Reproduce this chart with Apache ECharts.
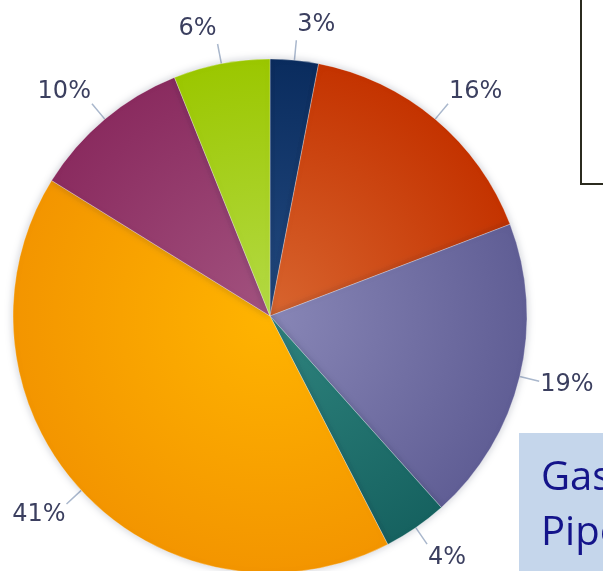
<!DOCTYPE html>
<html>
<head>
<meta charset="utf-8">
<style>
  html, body { margin: 0; padding: 0; background: #ffffff; }
  #chart { width: 603px; height: 571px; }
</style>
<script src="https://cdn.jsdelivr.net/npm/echarts@6/dist/echarts.min.js"></script>
</head>
<body>
<div id="chart"></div>
<script>
// Share of each segment, clockwise from twelve o'clock (percent)
const segmentNames = ['Segment A', 'Segment B', 'Segment C', 'Segment D', 'Segment E', 'Segment F', 'Segment G'];
const segmentValues = [3, 16, 19, 4, 41, 10, 6];
// Inner (light) and outer (dark) shade for each slice
const innerColors = ['#234a80', '#d8652f', '#8886b6', '#2f847e', '#ffb400', '#a2527f', '#b4da45'];
const outerColors = ['#0a2c5e', '#c43300', '#605e95', '#166260', '#f39500', '#8a2b5f', '#9bc700'];
const boxLines = ['Gas', 'Pipeline'];

const chart = echarts.init(document.getElementById('chart'), null, { renderer: 'canvas' });

const cx = 270, cy = 316, radius = 257;

const data = segmentValues.map((v, i) => ({
  name: segmentNames[i],
  value: v,
  itemStyle: {
    color: new echarts.graphic.RadialGradient(cx, cy, radius, [
      { offset: 0, color: innerColors[i] },
      { offset: 1, color: outerColors[i] }
    ], true)
  }
}));

// Push each label outward along its leader line so it sits beyond the line's tip
function placeLabel(params) {
  const pts = params.labelLinePoints;
  if (!pts) return {};
  const a = pts[0], b = pts[pts.length - 1];
  const len = Math.hypot(b[0] - a[0], b[1] - a[1]) || 1;
  const uy = (b[1] - a[1]) / len;
  return {
    dy: uy * 16,
    labelLinePoints: pts
  };
}

chart.setOption({
  animation: false,
  backgroundColor: '#ffffff',
  graphic: [
    {
      type: 'rect',
      shape: { x: 581, y: -10, width: 40, height: 194 },
      style: { fill: 'none', stroke: '#2b2b1f', lineWidth: 2 }
    },
    {
      type: 'rect',
      shape: { x: 519, y: 433, width: 100, height: 150 },
      style: { fill: '#c5d6eb' }
    },
    {
      type: 'text',
      left: 541,
      top: 451,
      style: {
        text: boxLines.join('\n'),
        fill: '#14148a',
        font: '40px "Open Sans", sans-serif',
        lineHeight: 55
      }
    }
  ],
  series: [{
    type: 'pie',
    center: [cx, cy],
    radius: radius,
    startAngle: 90,
    clockwise: true,
    data: data,
    itemStyle: {
      borderColor: 'rgba(255,255,255,0.3)',
      borderWidth: 1,
      shadowBlur: 8,
      shadowColor: 'rgba(40,50,80,0.25)'
    },
    label: {
      show: true,
      position: 'outside',
      formatter: '{c}%',
      fontFamily: 'DejaVu Sans',
      fontSize: 24,
      color: '#3b3f5f',
      overflow: 'none',
      distanceToLabelLine: 1
    },
    labelLine: {
      show: true,
      length: 20,
      length2: 0,
      smooth: false,
      lineStyle: { color: '#a9b7cc', width: 1.5 }
    },
    labelLayout: placeLabel,
    emphasis: { disabled: true }
  }]
});
</script>
</body>
</html>
